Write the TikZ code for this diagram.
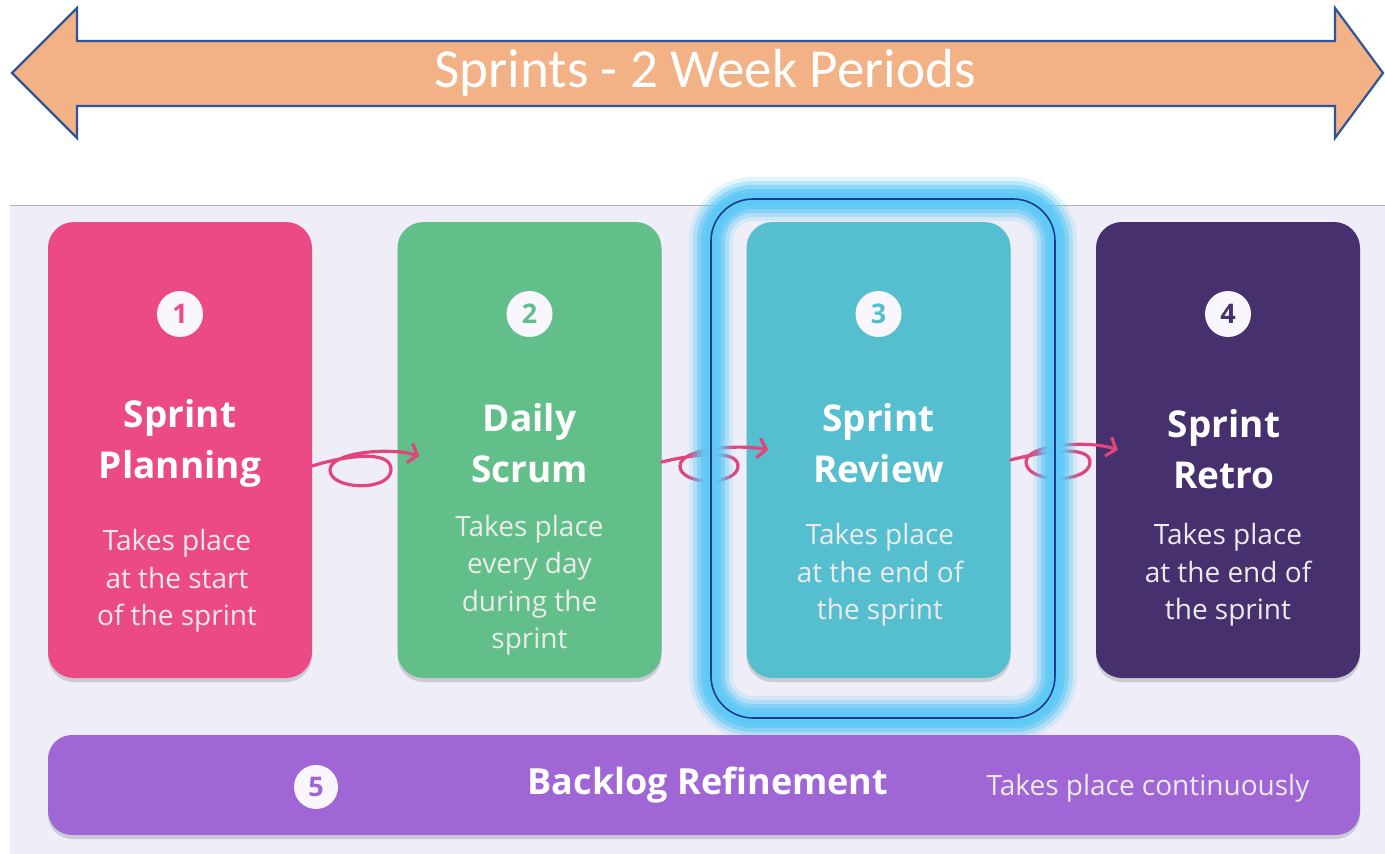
\documentclass[tikz,border=0pt]{standalone}
\usepackage{fontspec}
\setmainfont{Open Sans}
\newfontfamily\calfont{Carlito}
\usetikzlibrary{arrows.meta,shadows,calc}
\definecolor{arrowfill}{HTML}{F2B285}
\definecolor{arrowline}{HTML}{2F5597}
\definecolor{panel}{HTML}{EFEEF8}
\definecolor{cpink}{HTML}{EC4A84}
\definecolor{cgreen}{HTML}{62BF8A}
\definecolor{cteal}{HTML}{55BFD0}
\definecolor{cpurple}{HTML}{46306E}
\definecolor{cviolet}{HTML}{A066D6}
\definecolor{loopc}{HTML}{E0457B}
\definecolor{glow}{HTML}{5EC9F6}
\definecolor{hiline}{HTML}{1E3A8A}
\tikzset{
  card/.style={rounded corners=26pt, minimum width=264pt, minimum height=456pt, inner sep=0pt,
    drop shadow={shadow xshift=0pt, shadow yshift=-4pt, opacity=.25, fill=black!60}},
  num/.style={circle, fill=white!94!cviolet, minimum size=46pt, inner sep=0pt, font=\fontsize{27}{27}\selectfont\bfseries},
  ttl/.style={text=white, align=center, font=\fontsize{37}{51}\selectfont\bfseries},
  body/.style={text=white!92!black, align=center, font=\fontsize{28}{37.5}\selectfont},
  loopar/.style={draw=loopc, line width=3.2pt, line cap=round, line join=round, -{Straight Barb[length=8pt,width=20pt,line width=3.2pt]}},
}
\begin{document}
\begin{tikzpicture}[x=1pt,y=-1pt]
\useasboundingbox (0,0) rectangle (1385,854);
\fill[white] (0,0) rectangle (1385,854);
% top double arrow
\draw[fill=arrowfill, draw=arrowline, line width=2.2pt, line join=miter]
  (12,73) -- (77,8) -- (77,41) -- (1335,41) -- (1335,8) -- (1383,73) -- (1335,138) -- (1335,106) -- (77,106) -- (77,138) -- cycle;
\node[text=white, font=\calfont\fontsize{55}{55}\selectfont] (ttl) at (705,73) {Sprints - 2 Week Periods};
% panel
\fill[panel] (10,205) rectangle (1385,854);
\draw[black!30, line width=0.8pt] (10,205) -- (1385,205);
% cards
\node[card, fill=cpink] (c1) at (180,450) {};
\node[card, fill=cgreen] (c2) at (529.5,450) {};
\node[card, fill=cteal] (c3) at (878.5,450) {};
\node[card, fill=cpurple] (c4) at (1228,450) {};
% numbers
\node[num, text=cpink] (n1) at (180,314) {1};
\node[num, text=cgreen] (n2) at (529.5,314) {2};
\node[num, text=cteal] (n3) at (878.5,314) {3};
\node[num, text=cpurple] (n4) at (1228,314) {4};
% titles
\node[ttl] (t1) at (180,443) {Sprint\\Planning};
\node[ttl] (t2) at (529.5,443) {Daily\\Scrum};
\node[ttl] (t3) at (878.5,443) {Sprint\\Review};
\node[ttl] (t4) at (1224,449) {Sprint\\Retro};
% bodies
\node[body] (b1) at (177,581) {Takes place\\at the start\\of the sprint};
\node[body] (b2) at (529.5,585) {Takes place\\every day\\during the\\sprint};
\node[body] (b3) at (880,575) {Takes place\\at the end of\\the sprint};
\node[body] (b4) at (1228,575) {Takes place\\at the end of\\the sprint};
% loop connectors
\draw[loopar] ([yshift=-16pt]c1.east) .. controls (340,457) and (392,448) .. (391,470)
  .. controls (390,492) and (330,490) .. (330,470)
  .. controls (330,452) and (390,447) .. ($(c2.west)+(22,6)$);
\draw[loopar] ([yshift=-12pt]c2.east) .. controls (690,455) and (738,448) .. (738,466)
  .. controls (738,486) and (680,486) .. (680,466)
  .. controls (680,448) and (740,444) .. ($(c3.west)+(22,0)$);
\draw[loopar] ([yshift=-10pt]c3.east) .. controls (1040,452) and (1090,444) .. (1090,462)
  .. controls (1090,484) and (1026,484) .. (1026,462)
  .. controls (1026,444) and (1090,440) .. ($(c4.west)+(22,0)$);
% highlight glow
\foreach \w/\o in {44/0.18, 36/0.3, 28/0.5, 20/0.75, 12/0.95, 7/1}{
  \draw[glow, line width=\w pt, opacity=\o, rounded corners=42pt] (711,199) rectangle (1055,718);
}
\draw[hiline, line width=1.6pt, rounded corners=42pt] (711,199) rectangle (1055,718);
% bottom bar
\node[card, fill=cviolet, minimum width=1312pt, minimum height=100pt, rounded corners=24pt] (bar) at (704,785) {};
\node[num, text=cviolet, minimum size=44pt] (n5) at (316,787) {5};
\node[text=white, font=\fontsize{36}{36}\selectfont\bfseries] (bl) at (708,785) {Backlog Refinement};
\node[text=white!92!black, font=\fontsize{28}{28}\selectfont] (bc) at (1148,788) {Takes place continuously};
\end{tikzpicture}
\end{document}
